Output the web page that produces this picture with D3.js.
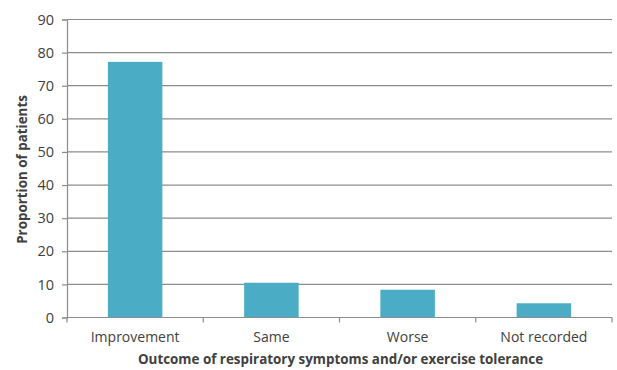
<!DOCTYPE html>
<html>
<head>
<meta charset="utf-8">
<script src="https://cdn.jsdelivr.net/npm/d3@7"></script>
<style>
  html, body { margin: 0; padding: 0; background: #fff; }
  svg { display: block; }
  text { font-family: "Open Sans", "Liberation Sans", sans-serif; fill: #404040; }
</style>
</head>
<body>
<svg id="chart" width="617" height="370"></svg>
<script>
// Outcome categories and the share of patients in each (%)
const categories = ["Improvement", "Same", "Worse", "Not recorded"];
const proportions = [77.2, 10.5, 8.4, 4.3];
const yTicks = [0, 10, 20, 30, 40, 50, 60, 70, 80, 90];

const svg = d3.select("#chart");
const margin = { left: 67, right: 5, top: 19.5, bottom: 52.5 };
const W = 617, H = 370;

const x = d3.scaleBand()
  .domain(categories)
  .range([margin.left, W - margin.right])
  .padding(0);

const y = d3.scaleLinear()
  .domain([0, 90])
  .range([H - margin.bottom, margin.top]);

// Horizontal gridlines
svg.append("g")
  .selectAll("line")
  .data(yTicks.filter(d => d > 0))
  .join("line")
  .attr("x1", margin.left)
  .attr("x2", W - margin.right)
  .attr("y1", d => y(d))
  .attr("y2", d => y(d))
  .attr("stroke", "#8c8c8c")
  .attr("stroke-width", 1.2);

// Bars: 40% of each category band, centred
const barFrac = 0.4;
svg.append("g")
  .selectAll("rect")
  .data(categories.map((c, i) => ({ c, v: proportions[i] })))
  .join("rect")
  .attr("x", d => x(d.c) + x.bandwidth() * (1 - barFrac) / 2)
  .attr("width", x.bandwidth() * barFrac)
  .attr("y", d => y(d.v))
  .attr("height", d => y(0) - y(d.v))
  .attr("fill", "#4bacc6");

// Y axis
const yAxis = svg.append("g")
  .attr("transform", `translate(${margin.left},0)`)
  .call(d3.axisLeft(y).tickValues(yTicks).tickSize(5).tickPadding(8));
yAxis.select(".domain").attr("stroke", "#8c8c8c").attr("stroke-width", 1.2);
yAxis.selectAll(".tick line").attr("stroke", "#8c8c8c").attr("stroke-width", 1.2);
yAxis.selectAll(".tick text")
  .attr("font-size", 14.5)
  .attr("fill", "#404040")
  .style("font-family", "'Open Sans', 'Liberation Sans', sans-serif");

// X axis: ticks on band boundaries, labels at band centres
const xAxisG = svg.append("g").attr("transform", `translate(0,${y(0)})`);
xAxisG.append("line")
  .attr("x1", margin.left).attr("x2", W - margin.right)
  .attr("stroke", "#8c8c8c").attr("stroke-width", 1.2);
const bounds = categories.map(c => x(c)).concat([x(categories[categories.length - 1]) + x.bandwidth()]);
xAxisG.selectAll("line.tk")
  .data(bounds)
  .join("line")
  .attr("class", "tk")
  .attr("x1", d => d).attr("x2", d => d)
  .attr("y1", 0).attr("y2", 5)
  .attr("stroke", "#8c8c8c").attr("stroke-width", 1.2);
xAxisG.selectAll("text")
  .data(categories)
  .join("text")
  .attr("x", d => x(d) + x.bandwidth() / 2)
  .attr("y", 24)
  .attr("text-anchor", "middle")
  .attr("font-size", 14)
  .text(d => d);

// Axis titles
svg.append("text")
  .attr("x", (margin.left + W - margin.right) / 2 + 1)
  .attr("y", 363.5)
  .attr("text-anchor", "middle")
  .attr("font-size", 13.4)
  .attr("font-weight", "bold")
  .attr("fill", "#1a1a1a")
  .text("Outcome of respiratory symptoms and/or exercise tolerance");

svg.append("text")
  .attr("transform", `translate(27,${(margin.top + H - margin.bottom) / 2 + 1}) rotate(-90)`)
  .attr("text-anchor", "middle")
  .attr("font-size", 13.4)
  .attr("font-weight", "bold")
  .attr("fill", "#1a1a1a")
  .text("Proportion of patients");
</script>
</body>
</html>
